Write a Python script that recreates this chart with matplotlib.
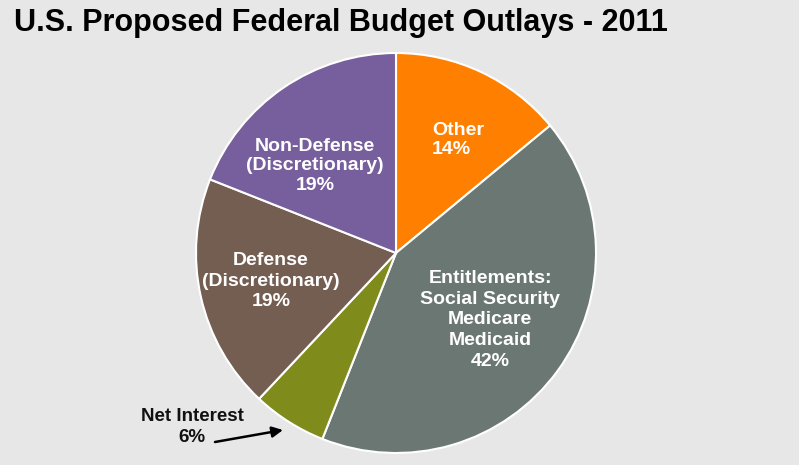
import matplotlib
matplotlib.use("Agg")
import matplotlib.pyplot as plt

# budget shares, clockwise from 12 o'clock
categories = ["Other", "Entitlements", "Net Interest", "Defense", "Non-Defense"]
shares = [14, 42, 6, 19, 19]
labels = [
    "Other\n14%",
    "Entitlements:\nSocial Security\nMedicare\nMedicaid\n42%",
    "Net Interest\n6%",
    "Defense\n(Discretionary)\n19%",
    "Non-Defense\n(Discretionary)\n19%",
]
colors = ["#ff8000", "#6b7773", "#7f8c1c", "#745d51", "#775e9c"]

bg = "#e6e7e6"
font = ["Liberation Sans Narrow", "Liberation Sans", "DejaVu Sans"]

fig = plt.figure(figsize=(7.99, 4.65), dpi=100)
fig.patch.set_facecolor(bg)

# square axes holding the pie, radius 200 px
ax = fig.add_axes([196 / 799, 12 / 465, 400 / 799, 400 / 465])
ax.set_facecolor(bg)
wedges, _ = ax.pie(shares, colors=colors, startangle=90, counterclock=False,
                   radius=1.0,
                   wedgeprops=dict(edgecolor="white", linewidth=1.5))
ax.set_xlim(-1, 1)
ax.set_ylim(-1, 1)
ax.set_aspect("equal")
ax.axis("off")

# label anchors in pie units: x, y, alignment, line spacing
pos = {
    "Other": (0.18, 0.565, "left", 1.2),
    "Entitlements": (0.47, -0.335, "center", 1.27),
    "Defense": (-0.625, -0.14, "center", 1.25),
    "Non-Defense": (-0.405, 0.435, "center", 1.18),
}
for cat, lab in zip(categories, labels):
    if cat == "Net Interest":
        continue
    x, y, ha, ls = pos[cat]
    ax.text(x, y, lab, ha=ha, va="center", multialignment=ha,
            color="white", fontsize=14, fontweight="bold",
            family=font, linespacing=ls)

# net interest is too thin for an inside label, use an arrow
ax.text(-1.02, -0.87, labels[2], ha="center", va="center",
        fontsize=13.5, fontweight="bold", family=font, color="#111111",
        linespacing=1.3)
ax.annotate("", xy=(-0.565, -0.885), xytext=(-0.905, -0.945),
            arrowprops=dict(arrowstyle="-|>", color="black", lw=1.8,
                            shrinkA=0, shrinkB=0, mutation_scale=16))

fig.text(14 / 799, 1 - 23 / 465, "U.S. Proposed Federal Budget Outlays - 2011",
         ha="left", va="center", fontsize=22, fontweight="bold",
         family=font, color="black")

fig.savefig("out.png", dpi=100, facecolor=bg)
